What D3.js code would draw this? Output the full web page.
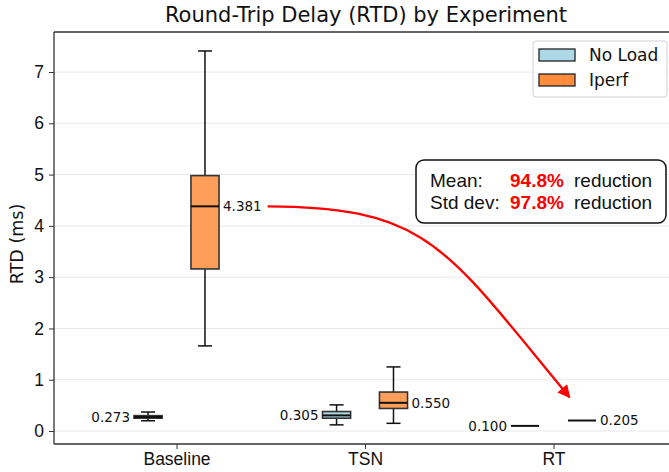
<!DOCTYPE html>
<html><head><meta charset="utf-8">
<script src="https://cdn.jsdelivr.net/npm/d3@7"></script>
<style>body{margin:0;background:#fff}svg{display:block}</style>
</head><body>
<script>
const categories = ["Baseline", "TSN", "RT"];
const seriesNames = ["No Load", "Iperf"];
// [whiskerLow, q1, median, q3, whiskerHigh]
const noLoadStats = [[0.20, 0.25, 0.273, 0.30, 0.37], [0.12, 0.25, 0.305, 0.38, 0.51], [0.100, 0.100, 0.100, 0.100, 0.100]];
const iperfStats  = [[1.66, 3.16, 4.381, 4.98, 7.41], [0.15, 0.44, 0.550, 0.76, 1.25], [0.205, 0.205, 0.205, 0.205, 0.205]];
const yTicks = [0, 1, 2, 3, 4, 5, 6, 7];
const meanReduction = "94.8%";
const stdReduction = "97.8%";
// arrow path in data coordinates: start, control 1, control 2, tip
const arrowPts = [[0.483, 4.381], [1.342, 4.36], [1.422, 3.60], [2.085, 0.66]];

const W = 669, H = 472;
const svg = d3.select("body").append("svg").attr("width", W).attr("height", H)
  .style("font-family", "'DejaVu Sans', sans-serif");

const pLeft = 54, pTop = 32, pBottom = 444;
const x = d3.scaleLinear().domain([-0.65, 2.65]).range([pLeft, pLeft + 3.3 * 188.5]);
const y = d3.scaleLinear().domain([-0.253, 7.78]).range([pBottom, pTop]);
const off = 0.151, bw = 0.149;

const colors = {"No Load": "#add8e6", "Iperf": "#ff9e5a"};
const legendColors = {"No Load": "#add8e6", "Iperf": "#ff8b3d"};

// clip
svg.append("clipPath").attr("id", "c").append("rect").attr("x", pLeft).attr("y", pTop).attr("width", W - pLeft).attr("height", pBottom - pTop);

// grid
svg.append("g").selectAll("line").data(yTicks).join("line")
  .attr("x1", pLeft).attr("x2", W).attr("y1", d => y(d)).attr("y2", d => y(d))
  .attr("stroke", "#e8e8e8").attr("stroke-width", 1);

// axes
const yAxis = svg.append("g").attr("transform", `translate(${pLeft},0)`)
  .call(d3.axisLeft(y).tickValues(yTicks).tickSize(5).tickPadding(5).tickFormat(d3.format("d")));
yAxis.select(".domain").remove();
yAxis.selectAll("text").style("font-size", "17.5px").attr("fill", "#111");
yAxis.selectAll("line").attr("stroke", "#333");

const xAxis = svg.append("g").attr("transform", `translate(0,${pBottom})`)
  .call(d3.axisBottom(x).tickValues([0, 1, 2]).tickSize(5).tickPadding(4).tickFormat(i => categories[i]));
xAxis.select(".domain").remove();
xAxis.selectAll("text").style("font-size", "17.5px").attr("fill", "#111");
xAxis.selectAll("line").attr("stroke", "#333");

// spines
svg.append("line").attr("x1", pLeft).attr("x2", pLeft).attr("y1", pTop).attr("y2", pBottom).attr("stroke", "#333").attr("stroke-width", 1.3);
svg.append("line").attr("x1", pLeft).attr("x2", W).attr("y1", pTop).attr("y2", pTop).attr("stroke", "#333").attr("stroke-width", 1.3);
svg.append("line").attr("x1", pLeft).attr("x2", W).attr("y1", pBottom).attr("y2", pBottom).attr("stroke", "#333").attr("stroke-width", 1.3);

// boxes
function drawBoxes(stats, name, sign) {
  const g = svg.append("g").attr("clip-path", "url(#c)");
  stats.forEach((s, i) => {
    const cx = x(i + sign * off);
    const x0 = x(i + sign * off - bw / 2), x1 = x(i + sign * off + bw / 2);
    const cw = (x1 - x0) / 4;
    const flat = s[0] === s[4];
    if (!flat) {
      g.append("line").attr("x1", cx).attr("x2", cx).attr("y1", y(s[0])).attr("y2", y(s[1])).attr("stroke", "#111").attr("stroke-width", 1.5);
      g.append("line").attr("x1", cx).attr("x2", cx).attr("y1", y(s[3])).attr("y2", y(s[4])).attr("stroke", "#111").attr("stroke-width", 1.5);
      g.append("line").attr("x1", cx - cw).attr("x2", cx + cw).attr("y1", y(s[0])).attr("y2", y(s[0])).attr("stroke", "#111").attr("stroke-width", 1.5);
      g.append("line").attr("x1", cx - cw).attr("x2", cx + cw).attr("y1", y(s[4])).attr("y2", y(s[4])).attr("stroke", "#111").attr("stroke-width", 1.5);
      g.append("rect").attr("x", x0).attr("y", y(s[3])).attr("width", x1 - x0).attr("height", y(s[1]) - y(s[3]))
        .attr("fill", colors[name]).attr("stroke", "#333").attr("stroke-width", 1.6);
    }
    g.append("line").attr("x1", x0).attr("x2", x1).attr("y1", y(s[2])).attr("y2", y(s[2])).attr("stroke", "#111").attr("stroke-width", 2);
    const lbl = svg.append("text").attr("y", y(s[2])).attr("dy", "0.35em").style("font-size", "13.5px").attr("fill", "#111")
      .text(d3.format(".3f")(s[2]));
    if (sign < 0) lbl.attr("x", x0 - 4).attr("text-anchor", "end");
    else lbl.attr("x", x1 + 4).attr("text-anchor", "start");
  });
}
drawBoxes(noLoadStats, "No Load", -1);
drawBoxes(iperfStats, "Iperf", 1);

// arrow (curved)
const ap = arrowPts.map(p => [x(p[0]), y(p[1])]);
svg.append("defs").append("marker").attr("id", "ah").attr("viewBox", "0 0 10 10").attr("refX", 9).attr("refY", 5)
  .attr("markerWidth", 6).attr("markerHeight", 5.5).attr("orient", "auto").attr("markerUnits", "strokeWidth")
  .append("path").attr("d", "M0,0 L10,5 L0,10 z").attr("fill", "#ff0000");
svg.append("path").attr("d", `M${ap[0]} C${ap[1]} ${ap[2]} ${ap[3]}`)
  .attr("fill", "none").attr("stroke", "#ff0000").attr("stroke-width", 2.3).attr("marker-end", "url(#ah)");

// annotation box
const ab = svg.append("g").style("font-family", "'Liberation Sans', Arial, sans-serif").style("font-size", "19px");
ab.append("rect").attr("x", 416).attr("y", 160).attr("width", 250).attr("height", 63).attr("rx", 8)
  .attr("fill", "#fff").attr("stroke", "#111").attr("stroke-width", 1.5);
ab.append("text").attr("x", 430).attr("y", 187).attr("fill", "#111").text("Mean:");
ab.append("text").attr("x", 430).attr("y", 209).attr("fill", "#111").text("Std dev:");
ab.append("text").attr("x", 510).attr("y", 187).attr("fill", "#ff0000").style("font-weight", "bold").text(meanReduction);
ab.append("text").attr("x", 510).attr("y", 209).attr("fill", "#ff0000").style("font-weight", "bold").text(stdReduction);
ab.append("text").attr("x", 574).attr("y", 187).attr("fill", "#111").text("reduction");
ab.append("text").attr("x", 574).attr("y", 209).attr("fill", "#111").text("reduction");

// legend
const lg = svg.append("g");
lg.append("rect").attr("x", 533).attr("y", 41).attr("width", 134).attr("height", 56).attr("rx", 3)
  .attr("fill", "#fff").attr("stroke", "#d0d0d0").attr("stroke-width", 1);
seriesNames.forEach((n, i) => {
  lg.append("rect").attr("x", 539).attr("y", 49 + i * 25).attr("width", 36).attr("height", 12)
    .attr("fill", legendColors[n]).attr("stroke", "#222").attr("stroke-width", 1.3);
  lg.append("text").attr("x", 589).attr("y", 55 + i * 25).attr("dy", "0.35em").style("font-size", "17px").attr("fill", "#111").text(n);
});

// title and y label
svg.append("text").attr("x", 366).attr("y", 22).attr("text-anchor", "middle").style("font-size", "21px").attr("fill", "#111")
  .text("Round-Trip Delay (RTD) by Experiment");
svg.append("text").attr("transform", `translate(23,${(pTop + pBottom) / 2 + 6}) rotate(-90)`).attr("text-anchor", "middle")
  .style("font-size", "17.5px").attr("fill", "#111").text("RTD (ms)");
</script>
</body></html>
